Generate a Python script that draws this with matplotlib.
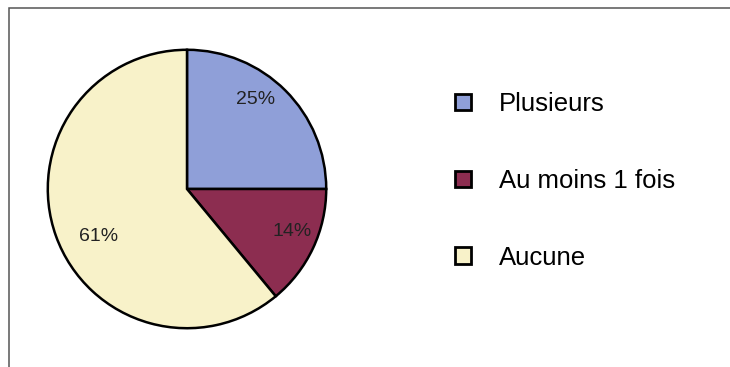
import numpy as np
import matplotlib
matplotlib.use("Agg")
import matplotlib.pyplot as plt
from matplotlib.patches import Rectangle, Patch

plt.rcParams['font.family'] = ['Liberation Sans', 'DejaVu Sans']

categories = ["Plusieurs", "Au moins 1 fois", "Aucune"]
shares = [25, 14, 61]
colors = ["#8f9fd8", "#8c2d50", "#f8f2c9"]

W, H = 730, 367
fig = plt.figure(figsize=(W / 100, H / 100), dpi=100)

# outer frame (open on the right and bottom edges)
fig.add_artist(Rectangle((9 / W, -0.05), 1.2, (H - 8) / H + 0.05,
                         transform=fig.transFigure, fill=False,
                         edgecolor="#555555", linewidth=1.1))

# pie axes: centre (187, 189) px from top-left, radius 142 px
cx, cy, r = 187, H - 189, 142
ax = fig.add_axes([(cx - r) / W, (cy - r) / H, 2 * r / W, 2 * r / H])
wedges, _, autotexts = ax.pie(
    shares, colors=colors, startangle=90, counterclock=False,
    autopct=lambda p: f"{p:.0f}%", pctdistance=0.8,
    wedgeprops=dict(edgecolor="black", linewidth=1.8),
    textprops=dict(fontsize=14, color="#222222"),
)
ax.set_xlim(-1.02, 1.02)
ax.set_ylim(-1.02, 1.02)
ax.set_aspect("equal")
ax.axis("off")

# label placement (angle in degrees, radius fraction)
label_pos = [(52.4, 0.81), (-21.9, 0.81), (-151.9, 0.72)]
for t, (ang, rad) in zip(autotexts, label_pos):
    a = np.deg2rad(ang)
    t.set_position((rad * np.cos(a), rad * np.sin(a)))

handles = [Patch(facecolor=c, edgecolor="black", linewidth=2.0) for c in colors]
fig.legend(handles, categories, loc="center left",
           bbox_to_anchor=(432 / W, (H - 181) / H), frameon=False,
           fontsize=18.5, labelspacing=2.05, handlelength=0.6,
           handleheight=0.6, handletextpad=1.1)

fig.savefig("out.png", dpi=100, facecolor="white")
